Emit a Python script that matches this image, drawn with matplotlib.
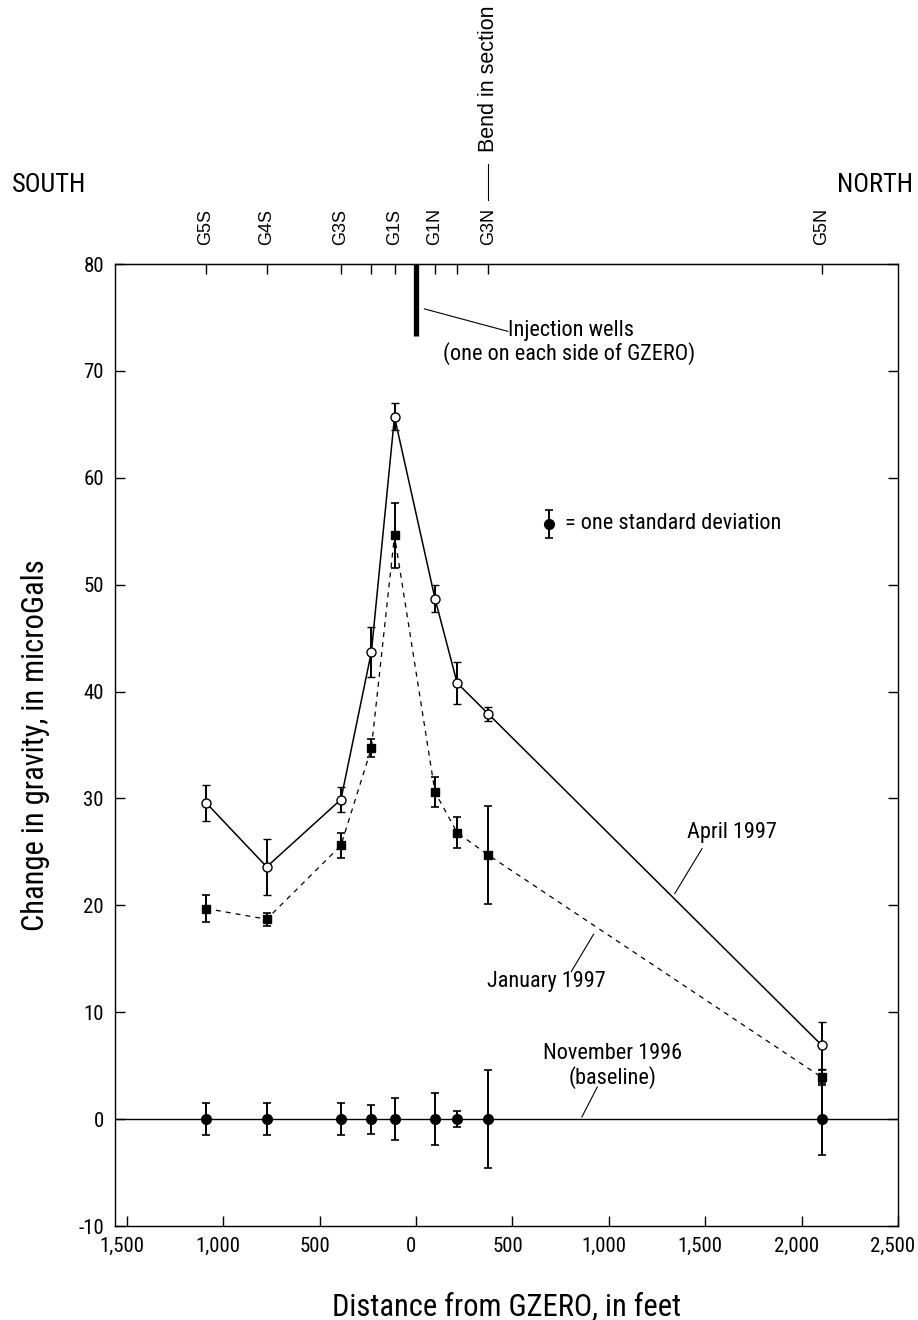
import numpy as np
import matplotlib.pyplot as plt
from matplotlib import font_manager
from matplotlib.ticker import FuncFormatter
from matplotlib.transforms import ScaledTranslation

# look for a condensed sans face; fall back to Liberation Sans
narrow = None
names = sorted({f.name for f in font_manager.fontManager.ttflist})
for want in ['Liberation Sans Narrow', 'Roboto Condensed', 'Open Sans Condensed',
             'Noto Sans Condensed', 'DejaVu Sans Condensed']:
    if want in names:
        narrow = want
        break
if narrow is None:
    for n in names:
        if 'Condensed' in n or 'Narrow' in n:
            narrow = n
            break
stretch = 'normal'
if narrow is None:
    cond = [f for f in font_manager.fontManager.ttflist
            if f.stretch in ('condensed', 'semi-condensed', 'extra-condensed')]
    if cond:
        narrow = cond[0].name
        stretch = cond[0].stretch
    else:
        narrow = 'Liberation Sans'

plt.rcParams['font.family'] = [narrow, 'DejaVu Sans']
plt.rcParams['font.stretch'] = stretch
plt.rcParams['axes.unicode_minus'] = False

# station positions (feet from GZERO, south negative)
stations = ['G5S', 'G4S', 'G3S', 'G2S', 'G1S', 'G1N', 'G2N', 'G3N', 'G5N']
station_labels = ['G5S', 'G4S', 'G3S', '', 'G1S', 'G1N', '', 'G3N', 'G5N']
dist = [-1090, -775, -390, -232, -112, 98, 213, 375, 2105]

# gravity change, microGals
april = [29.6, 23.6, 29.9, 43.7, 65.7, 48.7, 40.8, 37.9, 6.9]
april_err = [1.7, 2.6, 1.2, 2.3, 1.25, 1.3, 2.0, 0.7, 2.2]
january = [19.7, 18.7, 25.6, 34.7, 54.6, 30.6, 26.8, 24.7, 3.9]
january_err = [1.3, 0.6, 1.2, 0.85, 3.0, 1.4, 1.45, 4.6, 0.7]
november = [0, 0, 0, 0, 0, 0, 0, 0, 0]
november_err = [1.5, 1.5, 1.5, 1.35, 2.0, 2.45, 0.78, 4.6, 3.4]

fs = 16  # annotation text size

fig = plt.figure(figsize=(9.18, 13.2), dpi=100)
ax = fig.add_axes([115 / 918, 1 - 1226 / 1320, 783 / 918, 962 / 1320])

ax.axhline(0, color='black', lw=1.0, zorder=1)

ax.errorbar(dist, april, yerr=april_err, fmt='o-', color='black', mfc='white',
            ms=6.5, mew=1.0, lw=1.1, elinewidth=1.4, capsize=3, capthick=1.2, zorder=3)
ax.errorbar(dist, january, yerr=january_err, fmt='s--', color='black', mfc='black',
            ms=6, lw=0.9, dashes=(4, 4), elinewidth=1.4, capsize=3, capthick=1.2, zorder=3)
ax.errorbar(dist, november, yerr=november_err, fmt='o', color='black',
            ms=7, elinewidth=1.4, capsize=3, capthick=1.2, zorder=4)

# standard deviation key
ax.errorbar([687], [55.7], yerr=[1.3], fmt='o', color='black', ms=7,
            elinewidth=1.4, capsize=3, capthick=1.2)
ax.text(771, 55.7, '= one standard deviation', fontsize=fs, va='center', ha='left')

# injection wells
ax.plot([0, 0], [80, 73.3], color='black', lw=3.8, solid_capstyle='butt', clip_on=False)
ax.plot([43, 476], [75.8, 73.7], color='black', lw=0.8)
ax.text(476, 73.8, 'Injection wells', fontsize=fs, va='center', ha='left')
ax.text(137, 71.6, '(one on each side of GZERO)', fontsize=fs, va='center', ha='left')

# curve labels
ax.text(1403, 26.8, 'April 1997', fontsize=fs, va='center', ha='left')
ax.plot([1483, 1342], [25.3, 21.1], color='black', lw=0.8)
ax.text(983, 12.9, 'January 1997', fontsize=fs, va='center', ha='right')
ax.plot([921, 805], [17.3, 13.8], color='black', lw=0.8)
ax.text(1021, 6.1, 'November 1996', fontsize=fs, va='center', ha='center')
ax.text(1021, 3.9, '(baseline)', fontsize=fs, va='center', ha='center')
ax.plot([940, 860], [3.0, 0.2], color='black', lw=0.8)

ax.set_xlim(-1562, 2500)
ax.set_ylim(-10, 80)
ax.set_xticks(np.arange(-1500, 2501, 500))
ax.xaxis.set_major_formatter(FuncFormatter(lambda v, p: f'{abs(int(v)):,}'))
ax.set_yticks(np.arange(-10, 81, 10))
ax.tick_params(axis='both', direction='in', length=7, width=1, labelsize=15)
ax.tick_params(axis='y', right=True, pad=8)
ax.tick_params(axis='x', pad=8)
for s in ax.spines.values():
    s.set_linewidth(1.0)

# the original sets the distance labels a little left of their ticks
shift = ScaledTranslation(-5 / 100, 0, fig.dpi_scale_trans)
for lab in ax.get_xticklabels():
    lab.set_transform(lab.get_transform() + shift)

top = ax.secondary_xaxis('top')
top.set_xticks(dist)
top.set_xticklabels(station_labels, rotation=90, family='Liberation Sans',
                    stretch='normal', fontsize=13)
top.tick_params(direction='in', length=7, width=1, pad=14)

ax.set_xlabel('Distance from GZERO, in feet', fontsize=22, labelpad=26)
ax.set_ylabel('Change in gravity, in microGals', fontsize=22, labelpad=20)

fig.text(12 / 918, 1 - 185 / 1320, 'SOUTH', fontsize=19, va='center', ha='left')
fig.text(913 / 918, 1 - 185 / 1320, 'NORTH', fontsize=19, va='center', ha='right')

# bend in section
ax.text(375, 80 + 112 / 10.69, 'Bend in section', rotation=90, family='Liberation Sans',
        stretch='normal', fontsize=15.5, va='bottom', ha='center', clip_on=False)
ax.plot([375, 375], [80 + 64 / 10.69, 80 + 100 / 10.69], color='black', lw=0.8, clip_on=False)

fig.savefig('out.png', dpi=100)
